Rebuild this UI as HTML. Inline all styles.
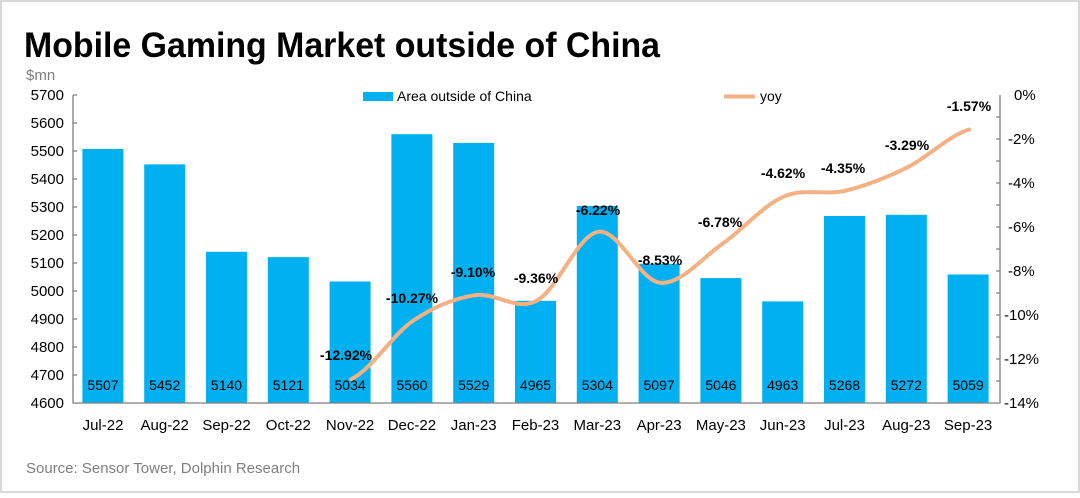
<!DOCTYPE html>
<html><head><meta charset="utf-8"><style>
html,body{margin:0;padding:0;background:#fff}
body{width:1080px;height:493px;overflow:hidden}
text{font-family:"Liberation Sans","DejaVu Sans",sans-serif}
</style></head><body>
<svg width="1080" height="493" xmlns="http://www.w3.org/2000/svg">
<rect x="1" y="1" width="1078" height="491" fill="#fff" stroke="#d9d9d9" stroke-width="2"/>
<text x="24" y="57" font-size="35" font-weight="bold" fill="#000" textLength="636" lengthAdjust="spacingAndGlyphs">Mobile Gaming Market outside of China</text>
<text x="26" y="80" font-size="15" fill="#7f7f7f">$mn</text>
<g font-size="15" fill="#000" text-anchor="end">
<text x="64" y="100">5700</text><text x="64" y="128">5600</text><text x="64" y="156">5500</text><text x="64" y="184">5400</text><text x="64" y="212">5300</text><text x="64" y="240">5200</text><text x="64" y="268">5100</text><text x="64" y="296">5000</text><text x="64" y="324">4900</text><text x="64" y="352">4800</text><text x="64" y="380">4700</text><text x="64" y="408">4600</text>
</g>
<g font-size="15" fill="#000">
<text x="1014" y="100">0%</text><text x="1008" y="144">-2%</text><text x="1008" y="188">-4%</text><text x="1008" y="232">-6%</text><text x="1008" y="276">-8%</text><text x="1004" y="320">-10%</text><text x="1004" y="364">-12%</text><text x="1004" y="408">-14%</text>
</g>
<g fill="#00b0f0">
<rect x="82.4" y="149" width="41" height="254"/><rect x="144.2" y="164.4" width="41" height="238.6"/><rect x="206" y="251.8" width="41" height="151.2"/><rect x="267.8" y="257.1" width="41" height="145.9"/><rect x="329.6" y="281.5" width="41" height="121.5"/><rect x="391.4" y="134.2" width="41" height="268.8"/><rect x="453.2" y="142.9" width="41" height="260.1"/><rect x="515" y="300.8" width="41" height="102.2"/><rect x="576.8" y="205.9" width="41" height="197.1"/><rect x="638.6" y="263.8" width="41" height="139.2"/><rect x="700.4" y="278.1" width="41" height="124.9"/><rect x="762.2" y="301.4" width="41" height="101.6"/><rect x="824" y="216" width="41" height="187"/><rect x="885.8" y="214.8" width="41" height="188.2"/><rect x="947.6" y="274.5" width="41" height="128.5"/>
</g>
<g stroke="#7f7f7f" stroke-width="1.3" fill="none">
<path d="M73 95V403H1000V95"/>
<path d="M73 95h4M73 123h4M73 151h4M73 179h4M73 207h4M73 235h4M73 263h4M73 291h4M73 319h4M73 347h4M73 375h4M1000 117h-4M1000 139h-4M1000 161h-4M1000 183h-4M1000 205h-4M1000 227h-4M1000 249h-4M1000 271h-4M1000 293h-4M1000 315h-4M1000 337h-4M1000 359h-4M1000 381h-4"/>
</g>
<g font-size="14" fill="#000" text-anchor="middle">
<text x="103" y="390">5507</text><text x="164.7" y="390">5452</text><text x="226.5" y="390">5140</text><text x="288.3" y="390">5121</text><text x="350.1" y="390">5034</text><text x="411.9" y="390">5560</text><text x="473.7" y="390">5529</text><text x="535.5" y="390">4965</text><text x="597.3" y="390">5304</text><text x="659.1" y="390">5097</text><text x="720.9" y="390">5046</text><text x="782.7" y="390">4963</text><text x="844.5" y="390">5268</text><text x="906.3" y="390">5272</text><text x="968.1" y="390">5059</text>
</g>
<g font-size="15" fill="#000" text-anchor="middle">
<text x="103" y="430">Jul-22</text><text x="164.7" y="430">Aug-22</text><text x="226.5" y="430">Sep-22</text><text x="288.3" y="430">Oct-22</text><text x="350.1" y="430">Nov-22</text><text x="411.9" y="430">Dec-22</text><text x="473.7" y="430">Jan-23</text><text x="535.5" y="430">Feb-23</text><text x="597.3" y="430">Mar-23</text><text x="659.1" y="430">Apr-23</text><text x="720.9" y="430">May-23</text><text x="782.7" y="430">Jun-23</text><text x="844.5" y="430">Jul-23</text><text x="906.3" y="430">Aug-23</text><text x="968.1" y="430">Sep-23</text>
</g>
<path d="M351.1 379.2C371.7 369.5 392.3 334.9 412.9 320.9C433.5 306.9 454.1 298.5 474.7 295.2C495.3 291.9 515.9 311.5 536.5 300.9C557.1 290.3 577.7 234.8 598.3 231.8C618.9 228.8 639.5 280.6 660.1 282.7C680.7 284.8 701.3 258.6 721.9 244.2C742.5 229.9 763.1 205.5 783.7 196.6C804.3 187.7 824.9 195.6 845.5 190.7C866.1 185.8 886.7 177.6 907.3 167.4C927.9 157.2 948.5 135.8 969.1 129.5" fill="none" stroke="#f4b183" stroke-width="4" stroke-linecap="round"/>
<g font-size="14" font-weight="bold" fill="#000" text-anchor="middle">
<text x="346" y="360">-12.92%</text><text x="412" y="303">-10.27%</text><text x="473" y="277">-9.10%</text><text x="536" y="283">-9.36%</text><text x="598" y="215">-6.22%</text><text x="660" y="265">-8.53%</text><text x="720" y="227">-6.78%</text><text x="783" y="178">-4.62%</text><text x="843" y="173">-4.35%</text><text x="907" y="150">-3.29%</text><text x="969" y="111">-1.57%</text>
</g>
<rect x="363" y="92" width="30" height="9" fill="#00b0f0"/>
<text x="397" y="101" font-size="14" fill="#000">Area outside of China</text>
<line x1="724" y1="96.5" x2="755" y2="96.5" stroke="#f4b183" stroke-width="4"/>
<text x="760" y="101" font-size="14" fill="#000">yoy</text>
<text x="26" y="473" font-size="15" fill="#7f7f7f">Source: Sensor Tower, Dolphin Research</text>
</svg>
</body></html>
